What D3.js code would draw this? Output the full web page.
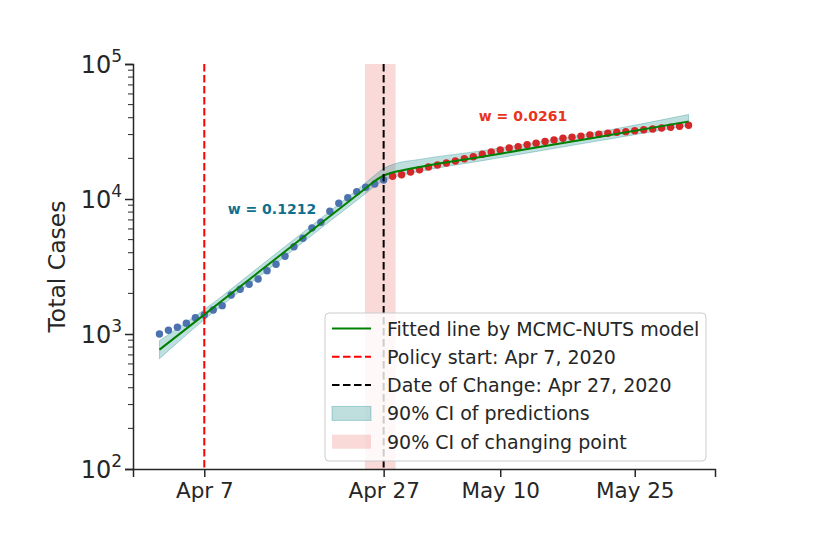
<!DOCTYPE html>
<html>
<head>
<meta charset="utf-8">
<script src="https://cdn.jsdelivr.net/npm/d3@7"></script>
<style>
  body { margin: 0; background: #fff; }
  text { font-family: "DejaVu Sans", sans-serif; fill: #262626; }
</style>
</head>
<body>
<div id="chart"></div>
<script>
// observed total cases, before / after the change point
const blueDates = ["2020-04-02","2020-04-03","2020-04-04","2020-04-05","2020-04-06","2020-04-07","2020-04-08","2020-04-09","2020-04-10","2020-04-11","2020-04-12","2020-04-13","2020-04-14","2020-04-15","2020-04-16","2020-04-17","2020-04-18","2020-04-19","2020-04-20","2020-04-21","2020-04-22","2020-04-23","2020-04-24","2020-04-25","2020-04-26","2020-04-27"];
const blueCases = [1000,1065,1121,1200,1321,1383,1507,1622,1946,2144,2334,2555,2943,3283,3765,4433,5117,6101,6718,8105,9290,10225,11325,12210,12920,13830];

const redDates = ["2020-04-28","2020-04-29","2020-04-30","2020-05-01","2020-05-02","2020-05-03","2020-05-04","2020-05-05","2020-05-06","2020-05-07","2020-05-08","2020-05-09","2020-05-10","2020-05-11","2020-05-12","2020-05-13","2020-05-14","2020-05-15","2020-05-16","2020-05-17","2020-05-18","2020-05-19","2020-05-20","2020-05-21","2020-05-22","2020-05-23","2020-05-24","2020-05-25","2020-05-26","2020-05-27","2020-05-28","2020-05-29","2020-05-30","2020-05-31"];
const redCases = [14730,15140,15850,16480,17260,17860,18480,19120,19890,20580,21430,22290,23070,23870,24390,25240,25860,26690,27360,28170,28660,29140,29790,30140,30690,31200,31540,32070,32620,33000,33610,33980,34570,35170];

// fitted line (knots) and its 90% CI band
const fitDates = ["2020-04-02","2020-04-07","2020-04-14","2020-04-21","2020-04-25","2020-04-26","2020-04-27","2020-04-28","2020-04-29","2020-05-10","2020-05-20","2020-05-31"];
const fitCases = [765,1392,3217,7450,12020,13550,14930,15720,16260,21660,28110,37510];

const ciDates = ["2020-04-02","2020-04-07","2020-04-14","2020-04-21","2020-04-25","2020-04-26","2020-04-27","2020-04-28","2020-05-01","2020-05-08","2020-05-15","2020-05-22","2020-05-31"];
const ciLow  = [656,1278,2953,6836,11000,12440,13710,14430,16010,19220,23070,27690,35030];
const ciHigh = [892,1516,3503,8107,13200,15010,16830,18020,19650,22790,26890,32280,42260];

const policyDate = "2020-04-07";
const changeDate = "2020-04-27";
const changeCI = ["2020-04-24T22:00", "2020-04-28T08:00"];

const xTicks = ["2020-04-07","2020-04-27","2020-05-10","2020-05-25"];
const yTicks = [100, 1000, 10000, 100000];
const yTickExp = ["2", "3", "4", "5"];

const legendLabels = ["Fitted line by MCMC-NUTS model", "Policy start: Apr 7, 2020", "Date of Change: Apr 27, 2020", "90% CI of predictions", "90% CI of changing point"];

const W = 830, H = 537;
const margin = { top: 64, right: 115, bottom: 68, left: 133 };
const width = W - margin.left - margin.right;
const height = H - margin.top - margin.bottom;

const parse = d3.timeParse("%Y-%m-%d");
const parseH = d3.timeParse("%Y-%m-%dT%H:%M");

const blue = blueDates.map((d, i) => ({ date: parse(d), v: blueCases[i] }));
const red = redDates.map((d, i) => ({ date: parse(d), v: redCases[i] }));
const fit = fitDates.map((d, i) => ({ date: parse(d), v: fitCases[i] }));
const ci = ciDates.map((d, i) => ({ date: parse(d), lo: ciLow[i], hi: ciHigh[i] }));

const svg = d3.select("#chart").append("svg")
  .attr("width", W).attr("height", H);
const g = svg.append("g").attr("transform", `translate(${margin.left},${margin.top})`);

// x domain = data extent with 5% padding, like matplotlib
const t0 = blue[0].date, t1 = red[red.length - 1].date;
const pad = (t1 - t0) * 0.05;
const x = d3.scaleTime().domain([new Date(+t0 - pad), new Date(+t1 + pad)]).range([0, width]);
const y = d3.scaleLog().domain([100, 100000]).range([height, 0]);

// changing point CI
g.append("rect")
  .attr("x", x(parseH(changeCI[0])))
  .attr("width", x(parseH(changeCI[1])) - x(parseH(changeCI[0])))
  .attr("y", 0).attr("height", height)
  .attr("fill", "#f08080").attr("fill-opacity", 0.3);

// prediction CI band
const area = d3.area()
  .x(d => x(d.date)).y0(d => y(d.lo)).y1(d => y(d.hi))
  .curve(d3.curveMonotoneX);
g.append("path").datum(ci)
  .attr("d", area)
  .attr("fill", "teal").attr("fill-opacity", 0.25)
  .attr("stroke", "teal").attr("stroke-opacity", 0.3).attr("stroke-width", 1);

// points
g.append("g").selectAll("circle").data(blue).join("circle")
  .attr("cx", d => x(d.date)).attr("cy", d => y(d.v)).attr("r", 3.7)
  .attr("fill", "#4c72b0");
g.append("g").selectAll("circle").data(red).join("circle")
  .attr("cx", d => x(d.date)).attr("cy", d => y(d.v)).attr("r", 3.7)
  .attr("fill", "#d62728");

// fitted line
const line = d3.line().x(d => x(d.date)).y(d => y(d.v)).curve(d3.curveMonotoneX);
g.append("path").datum(fit)
  .attr("d", line).attr("fill", "none")
  .attr("stroke", "green").attr("stroke-width", 2);

// vertical markers
g.append("line")
  .attr("x1", x(parse(policyDate))).attr("x2", x(parse(policyDate)))
  .attr("y1", 0).attr("y2", height)
  .attr("stroke", "red").attr("stroke-width", 2).attr("stroke-dasharray", "7.5,3.5");
g.append("line")
  .attr("x1", x(parse(changeDate))).attr("x2", x(parse(changeDate)))
  .attr("y1", 0).attr("y2", height)
  .attr("stroke", "black").attr("stroke-width", 2).attr("stroke-dasharray", "7.5,3.5");

// growth rate annotations
g.append("text")
  .attr("x", x(parseH("2020-04-14T13:00"))).attr("y", y(7740))
  .attr("text-anchor", "middle").attr("font-size", 14).attr("font-weight", "bold")
  .style("fill", "#106f8e").text("w = 0.1212");
g.append("text")
  .attr("x", x(parseH("2020-05-12T13:00"))).attr("y", y(37800))
  .attr("text-anchor", "middle").attr("font-size", 14).attr("font-weight", "bold")
  .style("fill", "#e8341c").text("w = 0.0261");

// axes
const axisColor = "#262626";
const xAxis = g.append("g").attr("transform", `translate(0,${height})`)
  .call(d3.axisBottom(x).tickValues(xTicks.map(parse))
    .tickFormat(d3.timeFormat("%b %-d")).tickSize(8).tickPadding(6));
xAxis.selectAll("text").attr("font-size", 21.5).style("font-family", "DejaVu Sans").style("fill", axisColor);

const yAxis = g.append("g")
  .call(d3.axisLeft(y).tickValues(yTicks).tickFormat("").tickSize(8));
// minor ticks
const minor = [];
for (let dec = 100; dec < 100000; dec *= 10)
  for (let k = 2; k <= 9; k++) minor.push(dec * k);
g.append("g").selectAll("line").data(minor).join("line")
  .attr("x1", -5).attr("x2", 0)
  .attr("y1", d => y(d)).attr("y2", d => y(d))
  .attr("stroke", axisColor).attr("stroke-width", 1);

const yLab = g.append("g").selectAll("text").data(yTicks).join("text")
  .attr("x", -11).attr("y", d => y(d) + 8.5)
  .attr("text-anchor", "end").attr("font-size", 24);
yLab.append("tspan").text("10");
yLab.append("tspan").attr("dy", -11).attr("font-size", 17).text((d, i) => yTickExp[i]);

[xAxis, yAxis].forEach(a => {
  a.select(".domain").attr("stroke", axisColor).attr("stroke-width", 1.5);
  a.selectAll(".tick line").attr("stroke", axisColor).attr("stroke-width", 1.5);
});

svg.append("text")
  .attr("transform", `translate(65,${margin.top + height / 2}) rotate(-90)`)
  .attr("text-anchor", "middle").attr("font-size", 23.5)
  .text("Total Cases");

// legend
const lg = svg.append("g").attr("transform", "translate(325,313)");
lg.append("rect")
  .attr("width", 381).attr("height", 148).attr("rx", 4)
  .attr("fill", "white").attr("fill-opacity", 0.8)
  .attr("stroke", "#cccccc").attr("stroke-width", 1);
const rowY = i => 15.5 + i * 28.3;
lg.append("line").attr("x1", 7).attr("x2", 46).attr("y1", rowY(0)).attr("y2", rowY(0))
  .attr("stroke", "green").attr("stroke-width", 2);
lg.append("line").attr("x1", 7).attr("x2", 46).attr("y1", rowY(1)).attr("y2", rowY(1))
  .attr("stroke", "red").attr("stroke-width", 2).attr("stroke-dasharray", "7.5,3.5");
lg.append("line").attr("x1", 7).attr("x2", 46).attr("y1", rowY(2)).attr("y2", rowY(2))
  .attr("stroke", "black").attr("stroke-width", 2).attr("stroke-dasharray", "7.5,3.5");
lg.append("rect").attr("x", 7).attr("y", rowY(3) - 7).attr("width", 39).attr("height", 14)
  .attr("fill", "teal").attr("fill-opacity", 0.25).attr("stroke", "teal").attr("stroke-opacity", 0.3);
lg.append("rect").attr("x", 7).attr("y", rowY(4) - 7).attr("width", 39).attr("height", 14)
  .attr("fill", "#f08080").attr("fill-opacity", 0.3);
lg.selectAll("text.lab").data(legendLabels).join("text")
  .attr("class", "lab")
  .attr("x", 62).attr("y", (d, i) => rowY(i) + 7)
  .attr("font-size", 19).text(d => d);
</script>
</body>
</html>
